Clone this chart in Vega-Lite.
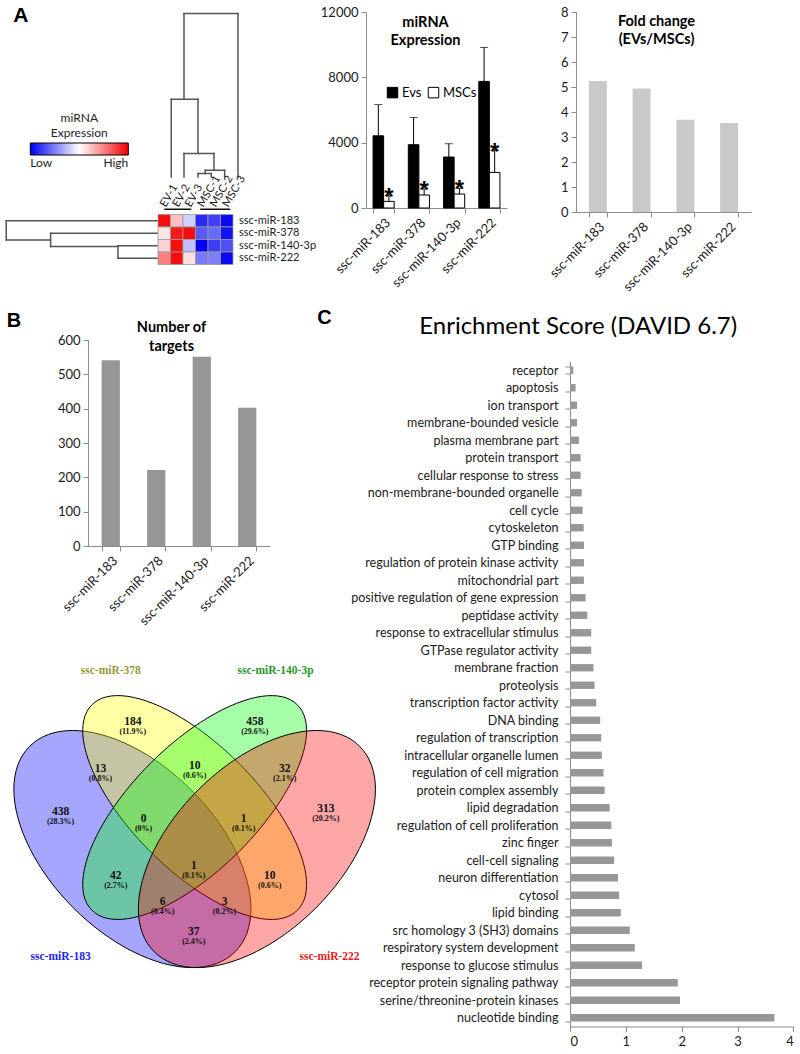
{
  "$schema": "https://vega.github.io/schema/vega-lite/v6.json",
  "padding": {"left": 5, "top": 5, "right": 2, "bottom": 2},
  "background": "white",
  "config": {
    "view": {"stroke": null},
    "font": "Lato",
    "axis": {"domainColor": "#8c8c8c", "tickColor": "#8c8c8c", "labelColor": "#1a1a1a", "labelFont": "Lato", "labelFontSize": 13, "grid": false, "tickSize": 5, "labelPadding": 3, "titleFont": "Lato", "titleColor": "#000000"},
    "legend": {"labelFont": "Lato", "titleFont": "Lato"}
  },
  "spacing": 13,
  "vconcat": [
    {
      "spacing": 3,
      "hconcat": [
        {
          "width": 151.25,
          "height": 252.5,
          "layer": [
            {
              "data": {"values": [
                {"x1": -11.64, "x2": -11.64, "y1": 1, "y2": 2.53},
                {"x1": -11.64, "x2": 0.5, "y1": 1, "y2": 1},
                {"x1": -11.64, "x2": -8.09, "y1": 2.53, "y2": 2.53},
                {"x1": -8.09, "x2": -8.09, "y1": 2, "y2": 3.06},
                {"x1": -8.09, "x2": 0.5, "y1": 2, "y2": 2},
                {"x1": -8.09, "x2": -2.7, "y1": 3.06, "y2": 3.06},
                {"x1": -2.7, "x2": -2.7, "y1": 3, "y2": 4},
                {"x1": -2.7, "x2": 0.5, "y1": 3, "y2": 3},
                {"x1": -2.7, "x2": 0.5, "y1": 4, "y2": 4},
                {"x1": 2.58, "x2": 6.9, "y1": -15.58, "y2": -15.58},
                {"x1": 2.58, "x2": 2.58, "y1": -15.58, "y2": -8.72},
                {"x1": 6.9, "x2": 6.9, "y1": -15.58, "y2": -2.51},
                {"x1": 1.56, "x2": 3.7, "y1": -8.72, "y2": -8.72},
                {"x1": 1.56, "x2": 1.56, "y1": -8.72, "y2": -2.51},
                {"x1": 3.7, "x2": 3.7, "y1": -8.72, "y2": -4.38},
                {"x1": 2.58, "x2": 4.98, "y1": -4.38, "y2": -4.38},
                {"x1": 2.58, "x2": 2.58, "y1": -4.38, "y2": -2.51},
                {"x1": 4.98, "x2": 4.98, "y1": -4.38, "y2": -3.04},
                {"x1": 4.28, "x2": 5.83, "y1": -3.04, "y2": -3.04},
                {"x1": 5.83, "x2": 5.83, "y1": -3.04, "y2": -2.51},
                {"x1": 4.28, "x2": 4.28, "y1": -3.04, "y2": -2.78},
                {"x1": 3.7, "x2": 4.76, "y1": -2.78, "y2": -2.78},
                {"x1": 3.7, "x2": 3.7, "y1": -2.78, "y2": -2.51},
                {"x1": 4.76, "x2": 4.76, "y1": -2.78, "y2": -2.51}
              ]},
              "mark": {"type": "rule", "color": "#555555", "strokeWidth": 1.5, "strokeCap": "square"},
              "encoding": {
                "x": {"field": "x1", "type": "quantitative", "scale": {"domain": [-5.1, 7.0], "nice": false, "zero": false}, "axis": null},
                "x2": {"field": "x2"},
                "y": {"field": "y1", "type": "quantitative", "scale": {"domain": [-15.7, 4.5], "reverse": true, "nice": false, "zero": false}, "axis": null},
                "y2": {"field": "y2"}
              }
            },
            {
              "data": {"values": [
                {"x1": 1.0, "x2": 3.16, "y1": 0.08, "y2": 0.08},
                {"x1": 3.88, "x2": 6.28, "y1": 0.08, "y2": 0.08}
              ]},
              "mark": {"type": "rule", "color": "#111111", "strokeWidth": 1.5},
              "encoding": {
                "x": {"field": "x1", "type": "quantitative", "scale": {"domain": [-5.1, 7.0], "nice": false, "zero": false}, "axis": null},
                "x2": {"field": "x2"},
                "y": {"field": "y1", "type": "quantitative", "scale": {"domain": [-15.7, 4.5], "reverse": true, "nice": false, "zero": false}, "axis": null},
                "y2": {"field": "y2"}
              }
            },
            {
              "data": {"values": [
                {"gene": "ssc-miR-183", "g": 1, "sample": "EV-1", "s": 1, "z": 0.95},
                {"gene": "ssc-miR-183", "g": 1, "sample": "EV-2", "s": 2, "z": 0.25},
                {"gene": "ssc-miR-183", "g": 1, "sample": "EV-3", "s": 3, "z": -0.18},
                {"gene": "ssc-miR-183", "g": 1, "sample": "MSC-1", "s": 4, "z": -0.83},
                {"gene": "ssc-miR-183", "g": 1, "sample": "MSC-2", "s": 5, "z": -0.75},
                {"gene": "ssc-miR-183", "g": 1, "sample": "MSC-3", "s": 6, "z": -0.96},
                {"gene": "ssc-miR-378", "g": 2, "sample": "EV-1", "s": 1, "z": 0.1},
                {"gene": "ssc-miR-378", "g": 2, "sample": "EV-2", "s": 2, "z": 0.9},
                {"gene": "ssc-miR-378", "g": 2, "sample": "EV-3", "s": 3, "z": 0.95},
                {"gene": "ssc-miR-378", "g": 2, "sample": "MSC-1", "s": 4, "z": -0.65},
                {"gene": "ssc-miR-378", "g": 2, "sample": "MSC-2", "s": 5, "z": -0.59},
                {"gene": "ssc-miR-378", "g": 2, "sample": "MSC-3", "s": 6, "z": -0.93},
                {"gene": "ssc-miR-140-3p", "g": 3, "sample": "EV-1", "s": 1, "z": 0.18},
                {"gene": "ssc-miR-140-3p", "g": 3, "sample": "EV-2", "s": 2, "z": 0.95},
                {"gene": "ssc-miR-140-3p", "g": 3, "sample": "EV-3", "s": 3, "z": -0.25},
                {"gene": "ssc-miR-140-3p", "g": 3, "sample": "MSC-1", "s": 4, "z": -1.0},
                {"gene": "ssc-miR-140-3p", "g": 3, "sample": "MSC-2", "s": 5, "z": -0.76},
                {"gene": "ssc-miR-140-3p", "g": 3, "sample": "MSC-3", "s": 6, "z": -0.69},
                {"gene": "ssc-miR-222", "g": 4, "sample": "EV-1", "s": 1, "z": 0.5},
                {"gene": "ssc-miR-222", "g": 4, "sample": "EV-2", "s": 2, "z": 0.95},
                {"gene": "ssc-miR-222", "g": 4, "sample": "EV-3", "s": 3, "z": 0.12},
                {"gene": "ssc-miR-222", "g": 4, "sample": "MSC-1", "s": 4, "z": -0.53},
                {"gene": "ssc-miR-222", "g": 4, "sample": "MSC-2", "s": 5, "z": -0.5},
                {"gene": "ssc-miR-222", "g": 4, "sample": "MSC-3", "s": 6, "z": -0.96}
              ]},
              "mark": {"type": "square", "size": 156.25, "opacity": 1, "stroke": "#9a9a9a", "strokeWidth": 0.8},
              "encoding": {
                "x": {"field": "s", "type": "quantitative", "scale": {"domain": [-5.1, 7.0], "nice": false, "zero": false}, "axis": null},
                "y": {"field": "g", "type": "quantitative", "scale": {"domain": [-15.7, 4.5], "reverse": true, "nice": false, "zero": false}, "axis": null},
                "color": {
                  "field": "z", "type": "quantitative",
                  "scale": {"domain": [-1, 0, 1], "range": ["#0000f5", "#ffffff", "#f50000"], "interpolate": "rgb"},
                  "legend": {"orient": "none", "legendX": -57.7, "legendY": 101, "direction": "horizontal", "title": ["miRNA", "Expression"], "titleAnchor": "middle", "titleAlign": "center", "titleFontSize": 12, "titleFontWeight": "normal", "titleLineHeight": 15, "titlePadding": 3, "titleColor": "#222222", "gradientLength": 98, "gradientThickness": 12, "gradientStrokeColor": "#000000", "gradientStrokeWidth": 1, "values": [-1, 1], "labelExpr": "datum.value < 0 ? 'Low' : 'High'", "labelFontSize": 12, "labelOffset": 3, "labelColor": "#222222", "padding": 0}
                }
              }
            },
            {
              "data": {"values": [
                {"gene": "ssc-miR-183", "g": 1},
                {"gene": "ssc-miR-378", "g": 2},
                {"gene": "ssc-miR-140-3p", "g": 3},
                {"gene": "ssc-miR-222", "g": 4}
              ]},
              "mark": {"type": "text", "align": "left", "baseline": "middle", "dx": 6, "fontSize": 11, "color": "#222222"},
              "encoding": {
                "x": {"datum": 6.5, "type": "quantitative", "scale": {"domain": [-5.1, 7.0], "nice": false, "zero": false}, "axis": null},
                "y": {"field": "g", "type": "quantitative", "scale": {"domain": [-15.7, 4.5], "reverse": true, "nice": false, "zero": false}, "axis": null},
                "text": {"field": "gene"}
              }
            },
            {
              "data": {"values": [
                {"sample": "EV-1", "s": 1},
                {"sample": "EV-2", "s": 2},
                {"sample": "EV-3", "s": 3},
                {"sample": "MSC-1", "s": 4},
                {"sample": "MSC-2", "s": 5},
                {"sample": "MSC-3", "s": 6}
              ]},
              "mark": {"type": "text", "align": "left", "baseline": "middle", "angle": -60, "dx": -2, "fontSize": 11, "color": "#222222"},
              "encoding": {
                "x": {"field": "s", "type": "quantitative", "scale": {"domain": [-5.1, 7.0], "nice": false, "zero": false}, "axis": null},
                "y": {"datum": -0.3, "type": "quantitative", "scale": {"domain": [-15.7, 4.5], "reverse": true, "nice": false, "zero": false}, "axis": null},
                "text": {"field": "sample"}
              }
            },
            {
              "data": {"values": [{"panel": "A"}]},
              "mark": {"type": "text", "align": "left", "baseline": "alphabetic", "fontSize": 21, "fontWeight": "bold", "font": "Liberation Sans", "color": "#000000"},
              "encoding": {
                "x": {"datum": -11.08, "type": "quantitative", "scale": {"domain": [-5.1, 7.0], "nice": false, "zero": false}, "axis": null},
                "y": {"datum": -14.88, "type": "quantitative", "scale": {"domain": [-15.7, 4.5], "reverse": true, "nice": false, "zero": false}, "axis": null},
                "text": {"field": "panel"}
              }
            }
          ]
        },
        {
          "spacing": 40,
          "hconcat": [
            {
              "width": 141,
              "height": 196,
              "data": {"values": [
                {"mirna": "ssc-miR-183", "group": "Evs", "value": 4420, "hi": 6330},
                {"mirna": "ssc-miR-183", "group": "MSCs", "value": 405, "hi": 750},
                {"mirna": "ssc-miR-378", "group": "Evs", "value": 3875, "hi": 5545},
                {"mirna": "ssc-miR-378", "group": "MSCs", "value": 795, "hi": 1160},
                {"mirna": "ssc-miR-140-3p", "group": "Evs", "value": 3120, "hi": 3935},
                {"mirna": "ssc-miR-140-3p", "group": "MSCs", "value": 855, "hi": 1200},
                {"mirna": "ssc-miR-222", "group": "Evs", "value": 7750, "hi": 9830},
                {"mirna": "ssc-miR-222", "group": "MSCs", "value": 2180, "hi": 3520}
              ]},
              "encoding": {
                "x": {"field": "mirna", "type": "nominal", "sort": null, "scale": {"paddingInner": 0.4, "paddingOuter": 0.2},
                  "axis": {"title": ["miRNA", "Expression"], "labelAngle": -45, "tickBand": "extent", "titleX": 59, "titleY": -193, "titleAlign": "center", "titleBaseline": "top", "titleFontSize": 14.5, "titleFontWeight": "bold", "titleLineHeight": 18}},
                "xOffset": {"field": "group", "sort": ["Evs", "MSCs"]}
              },
              "layer": [
                {
                  "mark": {"type": "bar", "stroke": "#000000", "strokeWidth": 1},
                  "encoding": {
                    "y": {"field": "value", "type": "quantitative", "scale": {"domain": [0, 12000], "nice": false}, "axis": {"values": [0, 2000, 4000, 6000, 8000, 10000, 12000], "format": "d", "title": null}},
                    "color": {"field": "group", "type": "nominal", "scale": {"domain": ["Evs", "MSCs"], "range": ["#000000", "#ffffff"]},
                      "legend": {"orient": "none", "legendX": 20, "legendY": 74, "direction": "horizontal", "title": null, "symbolType": "square", "symbolSize": 110, "symbolStrokeColor": "#000000", "symbolStrokeWidth": 1, "labelFontSize": 13, "labelColor": "#000000", "columnPadding": 4, "labelOffset": 3, "padding": 0}}
                  }
                },
                {
                  "mark": {"type": "rule", "color": "#000000", "strokeWidth": 1},
                  "encoding": {
                    "y": {"field": "value", "type": "quantitative", "title": null},
                    "y2": {"field": "hi"}
                  }
                },
                {
                  "mark": {"type": "tick", "color": "#000000", "size": 8, "thickness": 1},
                  "encoding": {
                    "y": {"field": "hi", "type": "quantitative", "title": null}
                  }
                },
                {
                  "transform": [{"filter": "datum.group === 'MSCs'"}],
                  "mark": {"type": "text", "text": "*", "fontSize": 24, "font": "Liberation Sans", "fontWeight": "bold", "dy": 9, "baseline": "alphabetic", "color": "#000000"},
                  "encoding": {
                    "y": {"field": "hi", "type": "quantitative", "title": null}
                  }
                }
              ]
            },
            {
              "width": 175,
              "height": 200,
              "data": {"values": [
                {"mirna": "ssc-miR-183", "fold": 5.24},
                {"mirna": "ssc-miR-378", "fold": 4.94},
                {"mirna": "ssc-miR-140-3p", "fold": 3.69},
                {"mirna": "ssc-miR-222", "fold": 3.56}
              ]},
              "mark": {"type": "bar", "color": "#c9c9c9"},
              "encoding": {
                "x": {"field": "mirna", "type": "nominal", "sort": null, "scale": {"paddingInner": 0.59, "paddingOuter": 0.295},
                  "axis": {"title": ["Fold change", "(EVs/MSCs)"], "labelAngle": -45, "tickBand": "extent", "titleX": 80, "titleY": -198, "titleAlign": "center", "titleBaseline": "top", "titleFontSize": 14.5, "titleFontWeight": "bold", "titleLineHeight": 18}},
                "y": {"field": "fold", "type": "quantitative", "scale": {"domain": [0, 8], "nice": false}, "axis": {"values": [0, 1, 2, 3, 4, 5, 6, 7, 8], "title": null}}
              }
            }
          ]
        }
      ]
    },
    {
      "spacing": -62,
      "hconcat": [
        {
          "spacing": 34,
          "vconcat": [
            {
              "width": 182,
              "height": 206,
              "data": {"values": [
                {"mirna": "ssc-miR-183", "targets": 541},
                {"mirna": "ssc-miR-378", "targets": 221},
                {"mirna": "ssc-miR-140-3p", "targets": 551},
                {"mirna": "ssc-miR-222", "targets": 403}
              ]},
              "mark": {"type": "bar", "color": "#969696"},
              "encoding": {
                "x": {"field": "mirna", "type": "nominal", "sort": null, "scale": {"paddingInner": 0.6, "paddingOuter": 0.3},
                  "axis": {"title": ["Number of", "targets"], "labelAngle": -45, "tickBand": "extent", "titleX": 83, "titleY": -226, "titleAlign": "center", "titleBaseline": "top", "titleFontSize": 14.5, "titleFontWeight": "bold", "titleLineHeight": 19}},
                "y": {"field": "targets", "type": "quantitative", "scale": {"domain": [0, 600], "nice": false},
                  "axis": {"values": [0, 100, 200, 300, 400, 500, 600], "title": "\u00a0B", "titleAngle": 0, "titleX": -81.7, "titleY": -14, "titleAlign": "left", "titleBaseline": "alphabetic", "titleFontSize": 20, "titleFontWeight": "bold", "titleFont": "Liberation Sans"}}
              }
            },
            {
              "width": 287.5,
              "height": 307,
              "layer": [
                {
                  "data": {"values": [{"set": "ssc-miR-183", "cx": 0.35, "cy": 0.47}]},
                  "mark": {"type": "point", "shape": "M-0.7071,-0.7071A1,0.5714,45,1,1,0.7071,0.7071A1,0.5714,45,1,1,-0.7071,-0.7071Z", "size": 84390, "filled": true, "fill": "#0000ff", "fillOpacity": 0.35, "stroke": "#000000", "strokeWidth": 1, "strokeOpacity": 1, "opacity": 1},
                  "encoding": {
                    "x": {"field": "cx", "type": "quantitative", "scale": {"domain": [0.243, 0.9358], "nice": false, "zero": false}, "axis": null},
                    "y": {"field": "cy", "type": "quantitative", "scale": {"domain": [0.181, 0.9206], "nice": false, "zero": false}, "axis": null}
                  }
                },
                {
                  "data": {"values": [{"set": "ssc-miR-378", "cx": 0.5, "cy": 0.57}]},
                  "mark": {"type": "point", "shape": "M-0.7071,-0.7071A1,0.4286,45,1,1,0.7071,0.7071A1,0.4286,45,1,1,-0.7071,-0.7071Z", "size": 84390, "filled": true, "fill": "#ffff00", "fillOpacity": 0.35, "stroke": "#000000", "strokeWidth": 1, "strokeOpacity": 1, "opacity": 1},
                  "encoding": {
                    "x": {"field": "cx", "type": "quantitative", "scale": {"domain": [0.243, 0.9358], "nice": false, "zero": false}, "axis": null},
                    "y": {"field": "cy", "type": "quantitative", "scale": {"domain": [0.181, 0.9206], "nice": false, "zero": false}, "axis": null}
                  }
                },
                {
                  "data": {"values": [{"set": "ssc-miR-140-3p", "cx": 0.5, "cy": 0.57}]},
                  "mark": {"type": "point", "shape": "M-0.7071,0.7071A1,0.4286,-45,1,1,0.7071,-0.7071A1,0.4286,-45,1,1,-0.7071,0.7071Z", "size": 84390, "filled": true, "fill": "#00ff00", "fillOpacity": 0.35, "stroke": "#000000", "strokeWidth": 1, "strokeOpacity": 1, "opacity": 1},
                  "encoding": {
                    "x": {"field": "cx", "type": "quantitative", "scale": {"domain": [0.243, 0.9358], "nice": false, "zero": false}, "axis": null},
                    "y": {"field": "cy", "type": "quantitative", "scale": {"domain": [0.181, 0.9206], "nice": false, "zero": false}, "axis": null}
                  }
                },
                {
                  "data": {"values": [{"set": "ssc-miR-222", "cx": 0.65, "cy": 0.47}]},
                  "mark": {"type": "point", "shape": "M-0.7071,0.7071A1,0.5714,-45,1,1,0.7071,-0.7071A1,0.5714,-45,1,1,-0.7071,0.7071Z", "size": 84390, "filled": true, "fill": "#ff0000", "fillOpacity": 0.35, "stroke": "#000000", "strokeWidth": 1, "strokeOpacity": 1, "opacity": 1},
                  "encoding": {
                    "x": {"field": "cx", "type": "quantitative", "scale": {"domain": [0.243, 0.9358], "nice": false, "zero": false}, "axis": null},
                    "y": {"field": "cy", "type": "quantitative", "scale": {"domain": [0.181, 0.9206], "nice": false, "zero": false}, "axis": null}
                  }
                },
                {
                  "data": {"values": [
                    {"count": "438", "pct": "(28.3%)", "vx": 0.177, "vy": 0.547},
                    {"count": "184", "pct": "(11.9%)", "vx": 0.351, "vy": 0.764},
                    {"count": "458", "pct": "(29.6%)", "vx": 0.645, "vy": 0.764},
                    {"count": "313", "pct": "(20.2%)", "vx": 0.816, "vy": 0.554},
                    {"count": "13", "pct": "(0.8%)", "vx": 0.273, "vy": 0.651},
                    {"count": "10", "pct": "(0.6%)", "vx": 0.5, "vy": 0.658},
                    {"count": "32", "pct": "(2.1%)", "vx": 0.717, "vy": 0.651},
                    {"count": "0", "pct": "(0%)", "vx": 0.377, "vy": 0.53},
                    {"count": "1", "pct": "(0.1%)", "vx": 0.618, "vy": 0.53},
                    {"count": "42", "pct": "(2.7%)", "vx": 0.31, "vy": 0.393},
                    {"count": "1", "pct": "(0.1%)", "vx": 0.498, "vy": 0.417},
                    {"count": "10", "pct": "(0.6%)", "vx": 0.681, "vy": 0.393},
                    {"count": "6", "pct": "(0.4%)", "vx": 0.423, "vy": 0.33},
                    {"count": "3", "pct": "(0.2%)", "vx": 0.572, "vy": 0.33},
                    {"count": "37", "pct": "(2.4%)", "vx": 0.498, "vy": 0.258}
                  ]},
                  "layer": [
                    {
                      "mark": {"type": "text", "font": "Liberation Serif", "fontWeight": "bold", "fontSize": 11.5, "dy": -5, "baseline": "middle", "color": "#111111"},
                      "encoding": {
                        "x": {"field": "vx", "type": "quantitative", "scale": {"domain": [0.243, 0.9358], "nice": false, "zero": false}, "axis": null},
                        "y": {"field": "vy", "type": "quantitative", "scale": {"domain": [0.181, 0.9206], "nice": false, "zero": false}, "axis": null},
                        "text": {"field": "count"}
                      }
                    },
                    {
                      "mark": {"type": "text", "font": "Liberation Serif", "fontWeight": "bold", "fontSize": 8, "dy": 5, "baseline": "middle", "color": "#111111"},
                      "encoding": {
                        "x": {"field": "vx", "type": "quantitative", "scale": {"domain": [0.243, 0.9358], "nice": false, "zero": false}, "axis": null},
                        "y": {"field": "vy", "type": "quantitative", "scale": {"domain": [0.181, 0.9206], "nice": false, "zero": false}, "axis": null},
                        "text": {"field": "pct"}
                      }
                    }
                  ]
                },
                {
                  "data": {"values": [
                    {"set": "ssc-miR-378", "lx": 0.298, "ly": 0.899},
                    {"set": "ssc-miR-140-3p", "lx": 0.695, "ly": 0.899},
                    {"set": "ssc-miR-183", "lx": 0.177, "ly": 0.21},
                    {"set": "ssc-miR-222", "lx": 0.825, "ly": 0.21}
                  ]},
                  "mark": {"type": "text", "font": "Liberation Serif", "fontWeight": "bold", "fontSize": 11.5, "baseline": "middle"},
                  "encoding": {
                    "x": {"field": "lx", "type": "quantitative", "scale": {"domain": [0.243, 0.9358], "nice": false, "zero": false}, "axis": null},
                    "y": {"field": "ly", "type": "quantitative", "scale": {"domain": [0.181, 0.9206], "nice": false, "zero": false}, "axis": null},
                    "text": {"field": "set"},
                    "color": {"field": "set", "type": "nominal", "scale": {"domain": ["ssc-miR-183", "ssc-miR-378", "ssc-miR-140-3p", "ssc-miR-222"], "range": ["#2323e6", "#999933", "#2a962a", "#e62020"]}, "legend": null}
                  }
                }
              ]
            }
          ]
        },
        {
          "spacing": -33.5,
          "vconcat": [
            {
              "width": 1,
              "height": 1,
              "data": {"values": []},
              "mark": {"type": "point", "opacity": 0}
            },
            {
              "width": 223.4,
              "height": 665,
              "data": {"values": [
                {"term": "receptor", "score": 0.06},
                {"term": "apoptosis", "score": 0.1},
                {"term": "ion transport", "score": 0.125},
                {"term": "membrane-bounded vesicle", "score": 0.125},
                {"term": "plasma membrane part", "score": 0.16},
                {"term": "protein transport", "score": 0.19},
                {"term": "cellular response to stress", "score": 0.19},
                {"term": "non-membrane-bounded organelle", "score": 0.21},
                {"term": "cell cycle", "score": 0.225},
                {"term": "cytoskeleton", "score": 0.245},
                {"term": "GTP binding", "score": 0.25},
                {"term": "regulation of protein kinase activity", "score": 0.25},
                {"term": "mitochondrial part", "score": 0.25},
                {"term": "positive regulation of gene expression", "score": 0.28},
                {"term": "peptidase activity", "score": 0.31},
                {"term": "response to extracellular stimulus", "score": 0.38},
                {"term": "GTPase regulator activity", "score": 0.38},
                {"term": "membrane fraction", "score": 0.42},
                {"term": "proteolysis", "score": 0.44},
                {"term": "transcription factor activity", "score": 0.47},
                {"term": "DNA binding", "score": 0.54},
                {"term": "regulation of transcription", "score": 0.56},
                {"term": "intracellular organelle lumen", "score": 0.57},
                {"term": "regulation of cell migration", "score": 0.6},
                {"term": "protein complex assembly", "score": 0.62},
                {"term": "lipid degradation", "score": 0.71},
                {"term": "regulation of cell proliferation", "score": 0.74},
                {"term": "zinc finger", "score": 0.75},
                {"term": "cell-cell signaling", "score": 0.79},
                {"term": "neuron differentiation", "score": 0.86},
                {"term": "cytosol", "score": 0.88},
                {"term": "lipid binding", "score": 0.91},
                {"term": "src homology 3 (SH3) domains", "score": 1.07},
                {"term": "respiratory system development", "score": 1.16},
                {"term": "response to glucose stimulus", "score": 1.29},
                {"term": "receptor protein signaling pathway", "score": 1.93},
                {"term": "serine/threonine-protein kinases", "score": 1.97},
                {"term": "nucleotide binding", "score": 3.66}
              ]},
              "mark": {"type": "bar", "color": "#979797"},
              "encoding": {
                "y": {"field": "term", "type": "nominal", "sort": null, "scale": {"paddingInner": 0.58, "paddingOuter": 0.29},
                  "axis": {"title": "C", "titleAngle": 0, "titleX": -253.3, "titleY": -38, "titleAlign": "left", "titleBaseline": "alphabetic", "titleFontSize": 20, "titleFontWeight": "bold", "titleFont": "Liberation Sans", "tickBand": "extent", "labelPadding": 7, "labelLimit": 400, "labelFontSize": 12.5}},
                "x": {"field": "score", "type": "quantitative", "scale": {"domain": [0, 4], "nice": false},
                  "axis": {"values": [0, 1, 2, 3, 4], "title": "Enrichment Score (DAVID 6.7)", "titleX": 7.7, "titleY": -693.4, "titleAlign": "center", "titleBaseline": "alphabetic", "titleFontSize": 24, "titleFontWeight": "normal", "labelPadding": 4}}
              }
            }
          ]
        }
      ]
    }
  ]
}
